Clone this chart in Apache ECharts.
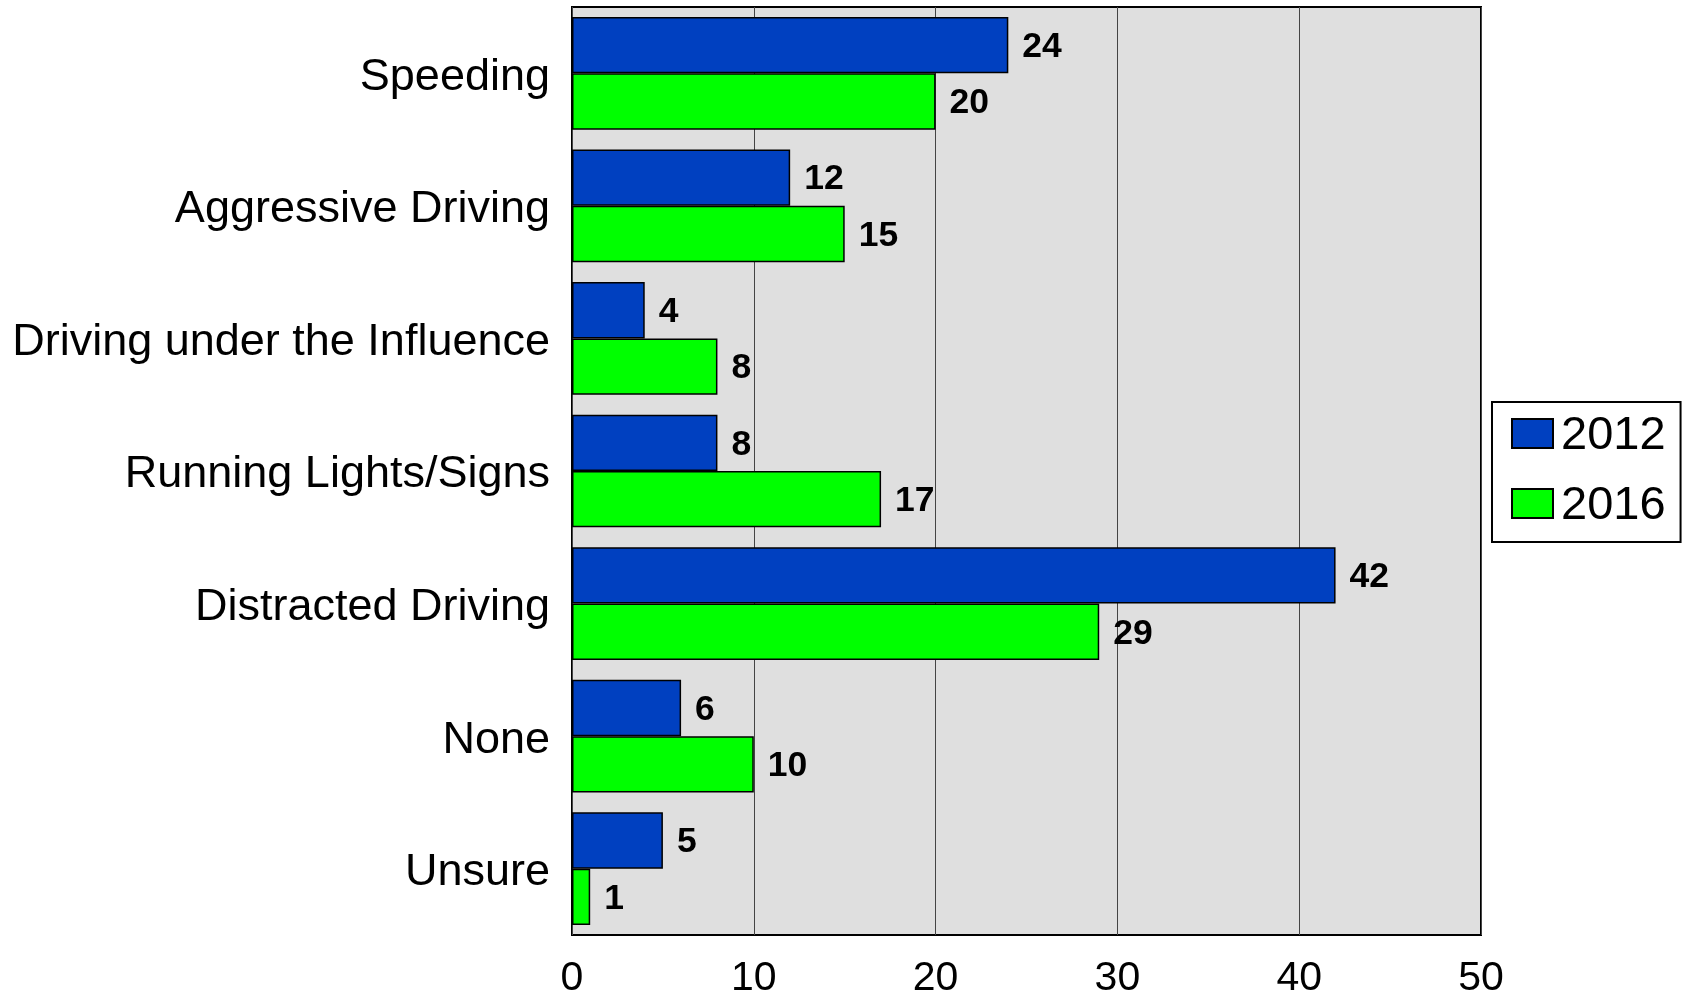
<!DOCTYPE html>
<html>
<head>
<meta charset="utf-8">
<script src="https://cdn.jsdelivr.net/npm/echarts@6/dist/echarts.min.js"></script>
<style>
html,body{margin:0;padding:0;background:#fff;}
#chart{width:1690px;height:996px;}
</style>
</head>
<body>
<div id="chart"></div>
<script>
const categories = ["Speeding", "Aggressive Driving", "Driving under the Influence", "Running Lights/Signs", "Distracted Driving", "None", "Unsure"];
const values2012 = [24, 12, 4, 8, 42, 6, 5];
const values2016 = [20, 15, 8, 17, 29, 10, 1];
const seriesNames = ["2012", "2016"];
const xTicks = [0, 10, 20, 30, 40, 50];

const FONT = "'Liberation Sans', Arial, sans-serif";
const chart = echarts.init(document.getElementById('chart'), null, {renderer: 'canvas'});
const labelStyle = {
  show: true, position: 'right', distance: 14, offset: [0, 2],
  fontFamily: FONT, fontSize: 35.5, fontWeight: 'bold', color: '#000'
};
chart.setOption({
  animation: false,
  backgroundColor: '#ffffff',
  textStyle: {fontFamily: FONT},
  grid: {
    left: 572, right: 209, top: 7, bottom: 61,
    outerBoundsMode: 'none', containLabel: false,
    show: true, backgroundColor: '#DFDFDF', borderColor: '#000', borderWidth: 2
  },
  legend: {
    orient: 'vertical',
    left: 1492, top: 402,
    padding: [11, 15, 12, 19],
    itemWidth: 41, itemHeight: 29, itemGap: 23,
    borderColor: '#000', borderWidth: 2,
    icon: 'rect',
    formatter: '{t|{name}}',
    textStyle: {
      fontFamily: FONT, fontSize: 47, color: '#000',
      rich: {t: {fontFamily: FONT, fontSize: 47, color: '#000', padding: [6, 0, 0, 3]}}
    },
    data: seriesNames
  },
  xAxis: {
    type: 'value', min: xTicks[0], max: xTicks[xTicks.length - 1], interval: 10,
    axisLine: {show: false}, axisTick: {show: false},
    splitLine: {show: true, lineStyle: {color: '#444', width: 1}},
    axisLabel: {fontFamily: FONT, fontSize: 41, color: '#000', margin: 23}
  },
  yAxis: {
    type: 'category', data: categories, inverse: true,
    axisLine: {show: false}, axisTick: {show: false},
    axisLabel: {
      fontFamily: FONT, fontSize: 45, color: '#000', margin: 22,
      formatter: '{c|{value}}',
      rich: {c: {fontFamily: FONT, fontSize: 45, color: '#000', padding: [8, 0, 0, 0]}}
    }
  },
  series: [
    {
      name: seriesNames[0], type: 'bar', data: values2012,
      barGap: '0%', barCategoryGap: '15%',
      itemStyle: {color: '#0040C0', borderColor: '#000', borderWidth: 1.5},
      label: labelStyle
    },
    {
      name: seriesNames[1], type: 'bar', data: values2016,
      barGap: '0%', barCategoryGap: '15%',
      itemStyle: {color: '#00FF00', borderColor: '#000', borderWidth: 1.5},
      label: labelStyle
    }
  ]
});
</script>
</body>
</html>
